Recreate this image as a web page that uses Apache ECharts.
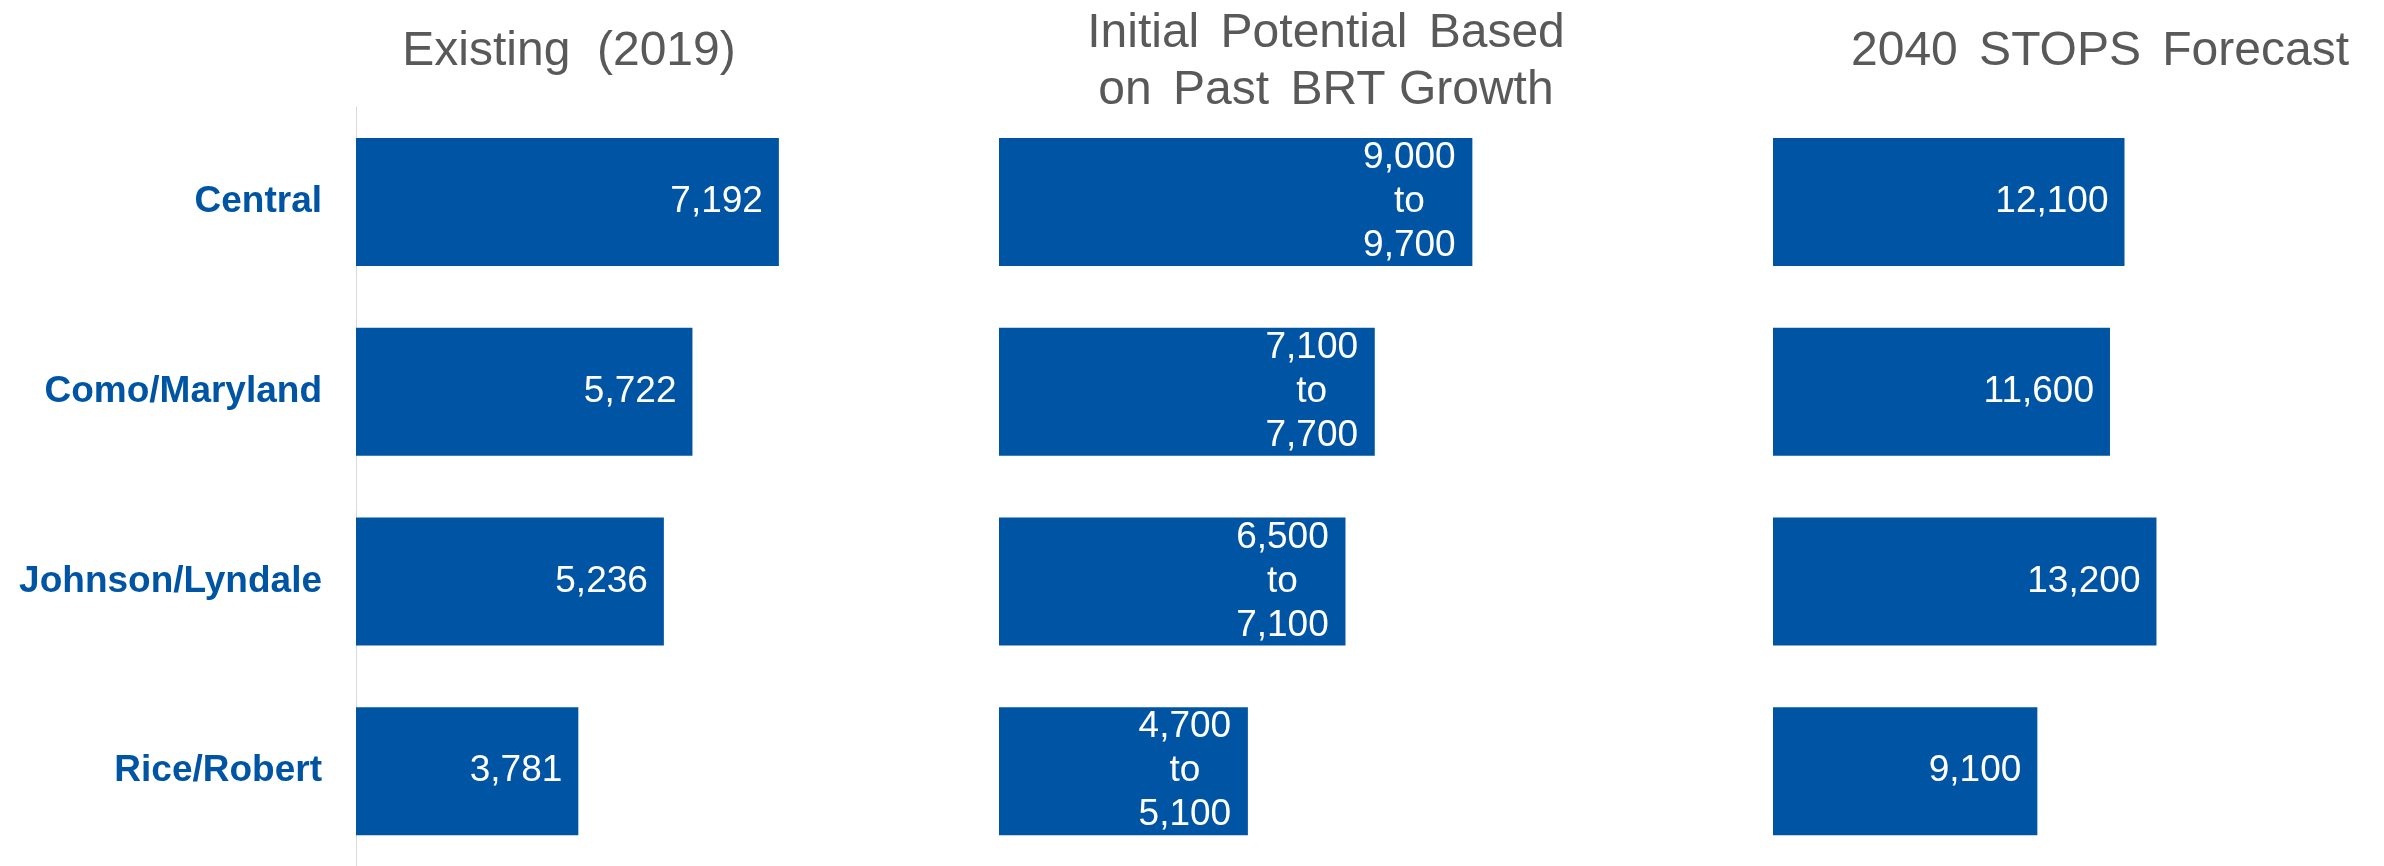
<!DOCTYPE html>
<html>
<head>
<meta charset="utf-8">
<script src="https://cdn.jsdelivr.net/npm/echarts@6/dist/echarts.min.js"></script>
<style>
html,body{margin:0;padding:0;background:#fff;}
#chart{width:2384px;height:866px;}
</style>
</head>
<body>
<div id="chart"></div>
<script>
var categories = ['Central', 'Como/Maryland', 'Johnson/Lyndale', 'Rice/Robert'];
var panelTitles = ['Existing  (2019)', 'Initial \u2006Potential \u2006Based\non \u2006Past \u2006BRT Growth', '2040 \u2006STOPS \u2006Forecast'];
var existing2019 = [7192, 5722, 5236, 3781];
var potentialLow = [9000, 7100, 6500, 4700];
var potentialHigh = [9700, 7700, 7100, 5100];
var stops2040 = [12100, 11600, 13200, 9100];

var BLUE = '#0054A4';
var GREY = '#595959';
var FONT = 'Liberation Sans, Arial, sans-serif';

function fmt(v) { return v.toLocaleString('en-US'); }

var chart = echarts.init(document.getElementById('chart'), null, {renderer: 'canvas'});

var grids = [
  {left: 356, top: 107, width: 588, height: 767},
  {left: 999, top: 107, width: 488, height: 767},
  {left: 1773, top: 107, width: 581, height: 767}
];

var titleStyle = {fontSize: 48, color: GREY, fontWeight: 'normal', fontFamily: FONT};

var option = {
  backgroundColor: '#ffffff',
  animation: false,
  title: [
    {text: panelTitles[0], left: 564, top: 19, textAlign: 'center', textStyle: Object.assign({lineHeight: 56}, titleStyle)},
    {text: panelTitles[1], left: 1321, top: 0, textAlign: 'center', textStyle: Object.assign({lineHeight: 57}, titleStyle)},
    {text: panelTitles[2], left: 2095, top: 19, textAlign: 'center', textStyle: Object.assign({lineHeight: 56}, titleStyle)}
  ],
  grid: grids,
  xAxis: [
    {type: 'value', gridIndex: 0, min: 0, max: 10000, show: false},
    {type: 'value', gridIndex: 1, min: 0, max: 10000, show: false},
    {type: 'value', gridIndex: 2, min: 0, max: 20000, show: false}
  ],
  yAxis: [
    {
      type: 'category', gridIndex: 0, data: categories, inverse: true, offset: 1,
      axisLine: {show: true, lineStyle: {color: '#d9d9d9', width: 1}},
      axisTick: {show: false},
      axisLabel: {margin: 33, fontSize: 37, fontWeight: 'bold', color: BLUE, fontFamily: FONT}
    },
    {type: 'category', gridIndex: 1, data: categories, inverse: true, show: false},
    {type: 'category', gridIndex: 2, data: categories, inverse: true, show: false}
  ],
  series: [
    {
      type: 'bar', xAxisIndex: 0, yAxisIndex: 0, data: existing2019, barWidth: 128,
      itemStyle: {color: BLUE},
      label: {show: true, position: 'insideRight', distance: 16, color: '#fff', fontSize: 37, fontFamily: FONT,
        formatter: function (p) { return fmt(p.value); }}
    },
    {
      type: 'bar', xAxisIndex: 1, yAxisIndex: 1, data: potentialHigh, barWidth: 128,
      itemStyle: {color: BLUE},
      label: {show: true, position: 'insideRight', distance: 16, color: '#fff', fontSize: 37, fontFamily: FONT,
        formatter: function (p) {
          return '{a|' + fmt(potentialLow[p.dataIndex]) + '}\n{a|to}\n{a|' + fmt(potentialHigh[p.dataIndex]) + '}';
        },
        rich: {a: {color: '#fff', fontSize: 37, fontFamily: FONT, lineHeight: 44, width: 94, align: 'center'}}
      }
    },
    {
      type: 'bar', xAxisIndex: 2, yAxisIndex: 2, data: stops2040, barWidth: 128,
      itemStyle: {color: BLUE},
      label: {show: true, position: 'insideRight', distance: 16, color: '#fff', fontSize: 37, fontFamily: FONT,
        formatter: function (p) { return fmt(p.value); }}
    }
  ]
};
chart.setOption(option);
</script>
</body>
</html>
